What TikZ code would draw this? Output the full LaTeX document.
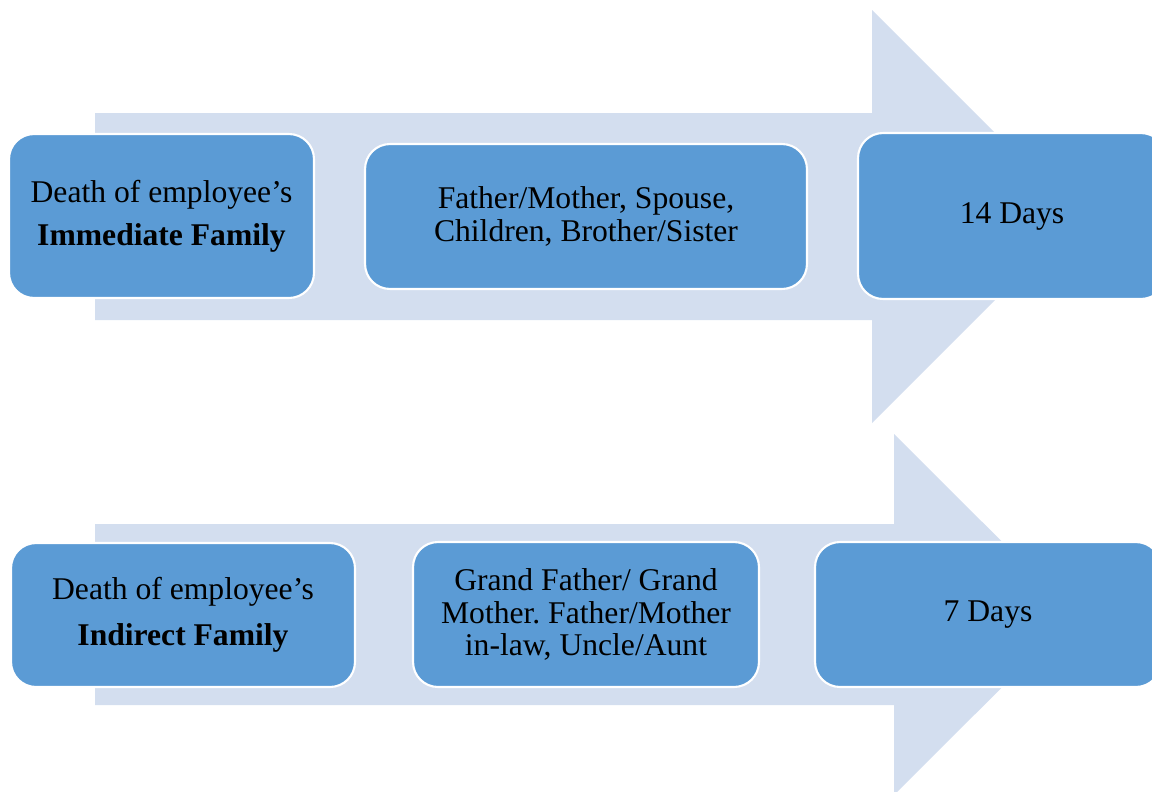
\documentclass[tikz,border=0pt]{standalone}
\usepackage{fontspec}
\setmainfont{Liberation Serif}
\usepackage{tikz}
\usetikzlibrary{positioning}
\definecolor{bandblue}{HTML}{D3DEEF}
\definecolor{stageblue}{HTML}{5B9BD5}
\frenchspacing

\begin{document}
\begin{tikzpicture}[
  x=0.02cm, y=-0.02cm,
  band/.style={fill=bandblue,draw=none},
  stage/.style={rounded corners=0.5cm,draw=white,line width=1.2pt,fill=stageblue,
                align=center,inner sep=2pt,font=\fontsize{18}{18.4}\selectfont}
]
  \useasboundingbox (0,0) rectangle (1152,791);
  \clip (0,0) rectangle (1152,791);

  % flechas de fondo
  \fill[band] (95,113) -- (872,113) -- (872,10) -- (1078.5,216.5) -- (872,423)
              -- (872,320) -- (95,320) -- cycle;
  \fill[band] (95,524) -- (894,524) -- (894,434) -- (1075,614.5) -- (894,795)
              -- (894,705) -- (95,705) -- cycle;

  % familia inmediata
  \node[stage,minimum width=6.1cm,minimum height=3.28cm] (imm) at (161.5,216)
       {Death of employee's\\[6pt] \textbf{Immediate Family}};
  \node[stage,minimum width=8.84cm,minimum height=2.9cm] (immrel) at (586,216.5)
       {Father/Mother, Spouse,\\ Children, Brother/Sister};
  \node[stage,minimum width=6.16cm,minimum height=3.32cm] (immdays) at (1012,216)
       {14 Days};

  % familia indirecta
  \node[stage,minimum width=6.88cm,minimum height=2.88cm] (ind) at (183,615)
       {Death of employee's\\[8pt] \textbf{Indirect Family}};
  \node[stage,minimum width=6.92cm,minimum height=2.9cm] (indrel) at (586,614.5)
       {Grand Father/ Grand\\ Mother. Father/Mother\\ in-law, Uncle/Aunt};
  \node[stage,minimum width=6.92cm,minimum height=2.9cm] (inddays) at (988,614.5)
       {7 Days};
\end{tikzpicture}
\end{document}
